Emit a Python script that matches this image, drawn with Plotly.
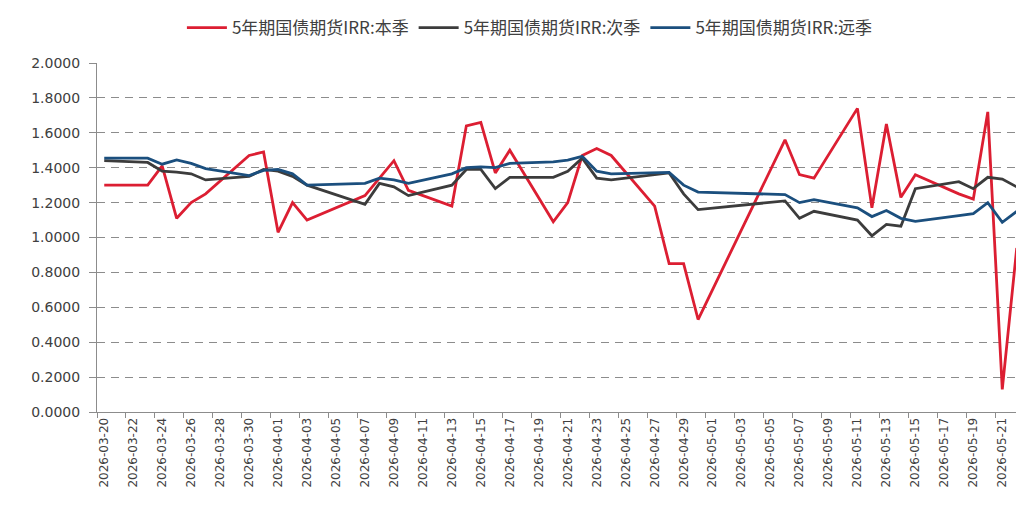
import plotly.graph_objects as go

# 交易日
dates = [
    "2026-03-20", "2026-03-23", "2026-03-24", "2026-03-25", "2026-03-26", "2026-03-27",
    "2026-03-30", "2026-03-31", "2026-04-01", "2026-04-02", "2026-04-03",
    "2026-04-07", "2026-04-08", "2026-04-09", "2026-04-10",
    "2026-04-13", "2026-04-14", "2026-04-15", "2026-04-16", "2026-04-17",
    "2026-04-20", "2026-04-21", "2026-04-22", "2026-04-23", "2026-04-24",
    "2026-04-27", "2026-04-28", "2026-04-29", "2026-04-30",
    "2026-05-06", "2026-05-07", "2026-05-08",
    "2026-05-11", "2026-05-12", "2026-05-13", "2026-05-14", "2026-05-15",
    "2026-05-18", "2026-05-19", "2026-05-20", "2026-05-21", "2026-05-22",
]

# 本季
irr_current = [
    1.30, 1.30, 1.41, 1.11, 1.20, 1.25,
    1.47, 1.49, 1.03, 1.20, 1.10,
    1.24, 1.34, 1.44, 1.27,
    1.18, 1.64, 1.66, 1.37, 1.50,
    1.09, 1.20, 1.47, 1.51, 1.47,
    1.18, 0.85, 0.85, 0.53,
    1.56, 1.36, 1.34,
    1.74, 1.17, 1.65, 1.23, 1.36,
    1.25, 1.22, 1.72, 0.13, 0.94,
]

# 次季
irr_next = [
    1.44, 1.43, 1.38, 1.375, 1.365, 1.33,
    1.35, 1.39, 1.38, 1.35, 1.30,
    1.19, 1.31, 1.29, 1.24,
    1.30, 1.39, 1.39, 1.28, 1.345,
    1.345, 1.38, 1.455, 1.34, 1.33,
    1.36, 1.37, 1.25, 1.16,
    1.21, 1.11, 1.15,
    1.10, 1.01, 1.075, 1.065, 1.28,
    1.32, 1.28, 1.345, 1.335, 1.29,
]

# 远季
irr_far = [
    1.455, 1.455, 1.42, 1.445, 1.425, 1.395,
    1.355, 1.385, 1.39, 1.365, 1.30,
    1.31, 1.34, 1.33, 1.31,
    1.365, 1.40, 1.405, 1.40, 1.425,
    1.433, 1.443, 1.465, 1.38, 1.365,
    1.37, 1.373, 1.30, 1.26,
    1.246, 1.20, 1.217,
    1.17, 1.12, 1.155, 1.11, 1.093,
    1.125, 1.137, 1.20, 1.087, 1.15,
]

series = [
    ("5年期国债期货IRR:本季", irr_current, "#dc1e32"),
    ("5年期国债期货IRR:次季", irr_next, "#3c3c3c"),
    ("5年期国债期货IRR:远季", irr_far, "#1b4f7e"),
]

fig = go.Figure()
for name, vals, color in series:
    fig.add_trace(go.Scatter(
        x=dates, y=vals, name=name, mode="lines",
        line=dict(color=color, width=2.8),
    ))

# 页面本身有 8px 的 body 边距，这里按此缩小画布
fig.update_layout(
    width=1016, height=501,
    margin=dict(l=89, r=0, t=55, b=97, autoexpand=False),
    plot_bgcolor="white",
    paper_bgcolor="white",
    font=dict(family="Noto Sans CJK SC, DejaVu Sans", size=13, color="#404040"),
    legend=dict(
        orientation="h", x=0.467, xanchor="center", y=1.1, yanchor="middle",
        font=dict(size=17, color="#404040"), itemwidth=40,
    ),
    xaxis=dict(
        type="date", automargin=False,
        range=["2026-03-19 12:00", "2026-05-22 12:00"],
        tick0="2026-03-20", dtick=2 * 86400000,
        tickformat="%Y-%m-%d", tickangle=-90,
        ticks="", showgrid=False, zeroline=False,
        showline=True, linecolor="#8c8c8c", linewidth=1,
        tickfont=dict(family="DejaVu Sans", size=12, color="#404040"),
        minor=dict(tick0="2026-03-19 12:00", dtick=2 * 86400000,
                   ticks="outside", ticklen=5, tickcolor="#8c8c8c", showgrid=False),
    ),
    yaxis=dict(
        range=[0, 2], dtick=0.2, tickformat=".4f", automargin=False,
        showgrid=True, gridcolor="#8c8c8c", griddash="8px,6px", gridwidth=1,
        zeroline=False,
        showline=True, linecolor="#8c8c8c", linewidth=1,
        ticks="outside", ticklen=7, tickcolor="#8c8c8c", ticklabelstandoff=6,
        tickfont=dict(family="DejaVu Sans", size=14, color="#404040"),
    ),
)

fig.write_html("out.html")
